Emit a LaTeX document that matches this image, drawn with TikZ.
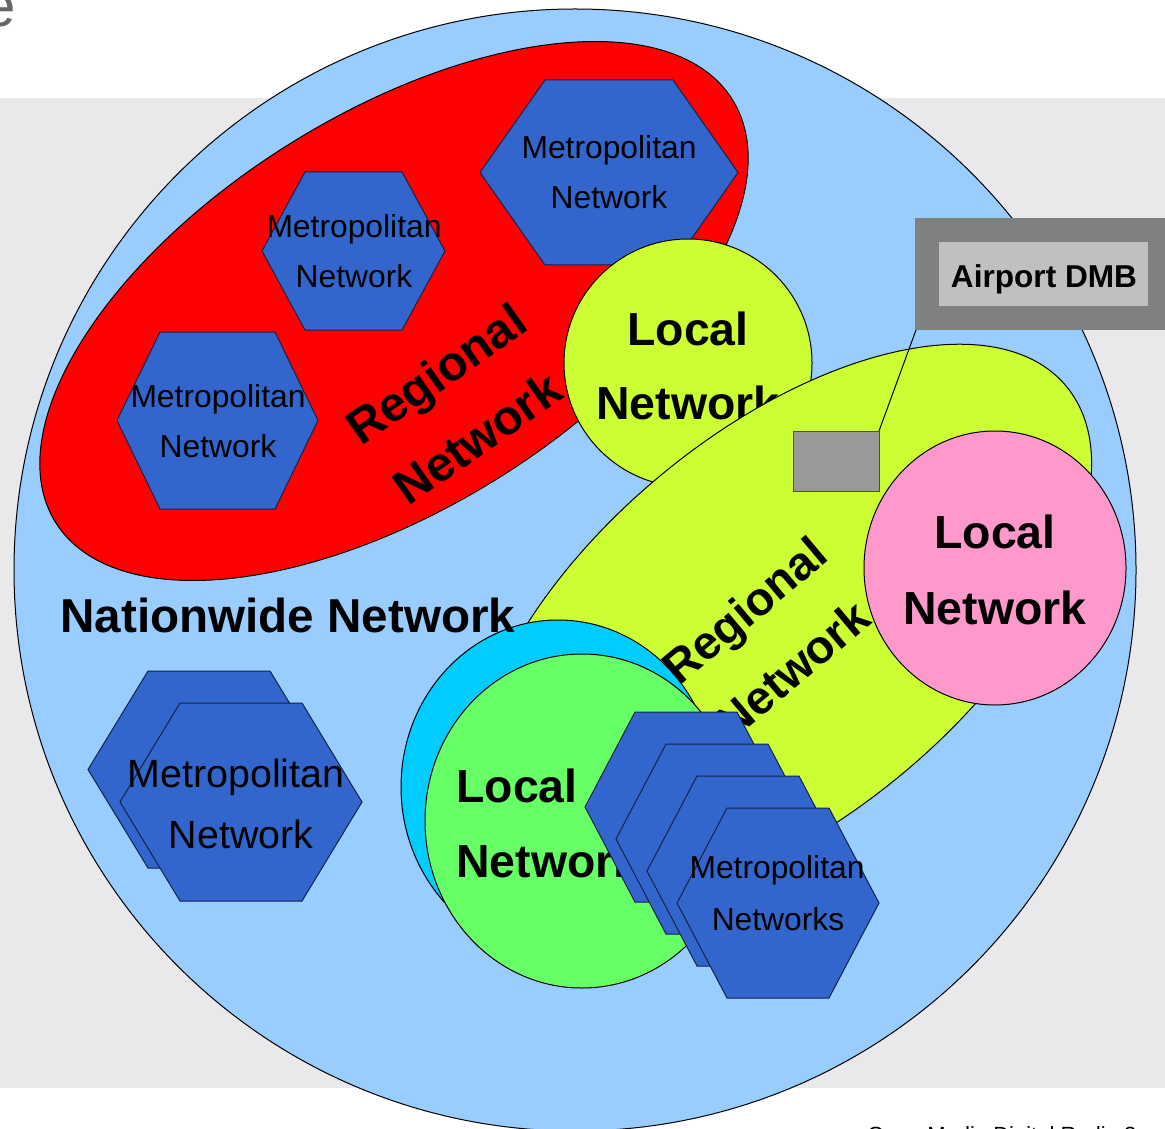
\documentclass[tikz,border=0pt]{standalone}
\usepackage{fontspec}
\setmainfont{Liberation Sans}
\definecolor{bandc}{HTML}{E9E9EB}
\definecolor{bluec}{HTML}{99CCFF}
\definecolor{redc}{HTML}{FF0000}
\definecolor{hexblue}{HTML}{3366CC}
\definecolor{hexedge}{HTML}{14214A}
\definecolor{limec}{HTML}{CCFF33}
\definecolor{pinkc}{HTML}{FF99CC}
\definecolor{cyanc}{HTML}{00CCFF}
\definecolor{greenc}{HTML}{66FF66}
\definecolor{grayrect}{HTML}{999999}
\definecolor{apdark}{HTML}{808080}
\definecolor{aplight}{HTML}{C0C0C0}
\definecolor{titlegray}{HTML}{666666}
\newcommand{\myhex}[5]{\filldraw[hexs] ({#1-#3},#2) -- ({#1-#4},{#2-#5}) -- ({#1+#4},{#2-#5}) -- ({#1+#3},#2) -- ({#1+#4},{#2+#5}) -- ({#1-#4},{#2+#5}) -- cycle;}
\begin{document}
\begin{tikzpicture}[x=0.5pt,y=-0.5pt,
  outl/.style={draw=black,line width=0.5pt},
  hexs/.style={fill=hexblue,draw=hexedge,line width=0.5pt},
  hextxt/.style={font=\fontsize{15.9}{19}\selectfont,anchor=base,inner sep=0pt},
  bighextxt/.style={font=\fontsize{19.7}{24}\selectfont,anchor=base,inner sep=0pt},
  loctxt/.style={font=\fontsize{23.2}{28}\selectfont\bfseries,anchor=base,inner sep=0pt},
  regtxt/.style={font=\fontsize{23.4}{28}\selectfont\bfseries,anchor=base,inner sep=0pt}]
\clip (0,0) rectangle (1165,1128);
\fill[white] (0,0) rectangle (1165,1128);
\fill[bandc] (0,98) rectangle (1165,1088);
\node[font=\fontsize{30}{36}\selectfont,text=titlegray,anchor=base east,inner sep=0pt] (ttl) at (16,27) {e};
\node[font=\fontsize{11}{13}\selectfont,anchor=base west,inner sep=0pt] (foot) at (867,1142) {Open Media Digital Radio 3};
% nationwide
\filldraw[outl,fill=bluec] (575,570) circle [radius=561];
% red regional
\filldraw[outl,fill=redc,rotate around={32:(394,311)}] (394,311) ellipse [x radius=399,y radius=197];
\myhex{609}{172.5}{129}{64}{92.5}
\myhex{353.5}{251}{91.5}{48.5}{79}
\myhex{217.5}{420.5}{100.5}{57.5}{88.5}
\node[hextxt] (ma1) at (609,159) {Metropolitan};
\node[hextxt] (ma2) at (609,209) {Network};
\node[hextxt] (mb1) at (354,238) {Metropolitan};
\node[hextxt] (mb2) at (354,288) {Network};
\node[hextxt] (mc1) at (218,407) {Metropolitan};
\node[hextxt] (mc2) at (218,457) {Network};
\node[regtxt,font=\fontsize{24.3}{29}\selectfont\bfseries,rotate=35] (rr1) at (446,388) {Regional};
\node[regtxt,font=\fontsize{24.3}{29}\selectfont\bfseries,rotate=35] (rr2) at (487,452) {Network};
% top local
\filldraw[outl,fill=limec] (688,363) circle [radius=124];
\node[loctxt] (la1) at (688,345) {Local};
\node[loctxt] (la2) at (688,419) {Network};
% lime regional
\filldraw[outl,fill=limec,rotate around={40:(781,625)}] (781,625) ellipse [x radius=372,y radius=192];
% airport
\filldraw[fill=grayrect,draw=black!70,line width=0.5pt] (793,431) rectangle (879,491);
\coordinate (gwNE) at (879,431);
\fill[apdark] (915,218) rectangle (1170,330);
\fill[aplight] (939,242) rectangle (1148,306);
\coordinate (apSW) at (916,330);
\node[font=\fontsize{15.8}{19}\selectfont\bfseries,anchor=base,inner sep=0pt] (ap) at (1044,288) {Airport DMB};
\draw[black,line width=0.5pt] (gwNE) -- (apSW);
% pink local
\filldraw[outl,fill=pinkc] (995,568) ellipse [x radius=131,y radius=137];
\node[loctxt] (lp1) at (995,548) {Local};
\node[loctxt] (lp2) at (995,624) {Network};
% lime regional text
\node[regtxt,rotate=40] (ry1) at (755,623) {Regional};
\node[regtxt,rotate=40] (ry2) at (803,682) {Network};
% cyan + green local
\filldraw[outl,fill=cyanc] (558,787) ellipse [x radius=157,y radius=167];
\filldraw[outl,fill=greenc] (582,821) ellipse [x radius=157,y radius=167];
\node[loctxt,anchor=base west] (lg1) at (456,802) {Local};
\node[loctxt,anchor=base west] (lg2) at (456,877) {Network};
% stack of metropolitan networks
\myhex{686}{807}{101}{51}{95}
\myhex{717}{839}{101}{51}{95}
\myhex{748}{871}{101}{51}{95}
\myhex{778}{903}{101}{51}{95}
\node[hextxt] (ms1) at (777,878) {Metropolitan};
\node[hextxt] (ms2) at (778,930) {Networks};
% nationwide label
\node[font=\fontsize{23.8}{28}\selectfont\bfseries,anchor=base west,inner sep=0pt] (nw) at (60,632) {Nationwide Network};
% bottom-left pair
\myhex{209}{769.5}{121}{61}{98.5}
\myhex{241}{802}{121}{61}{99}
\node[bighextxt] (mp1) at (236,787) {Metropolitan};
\node[bighextxt] (mp2) at (241,848) {Network};
\end{tikzpicture}
\end{document}
